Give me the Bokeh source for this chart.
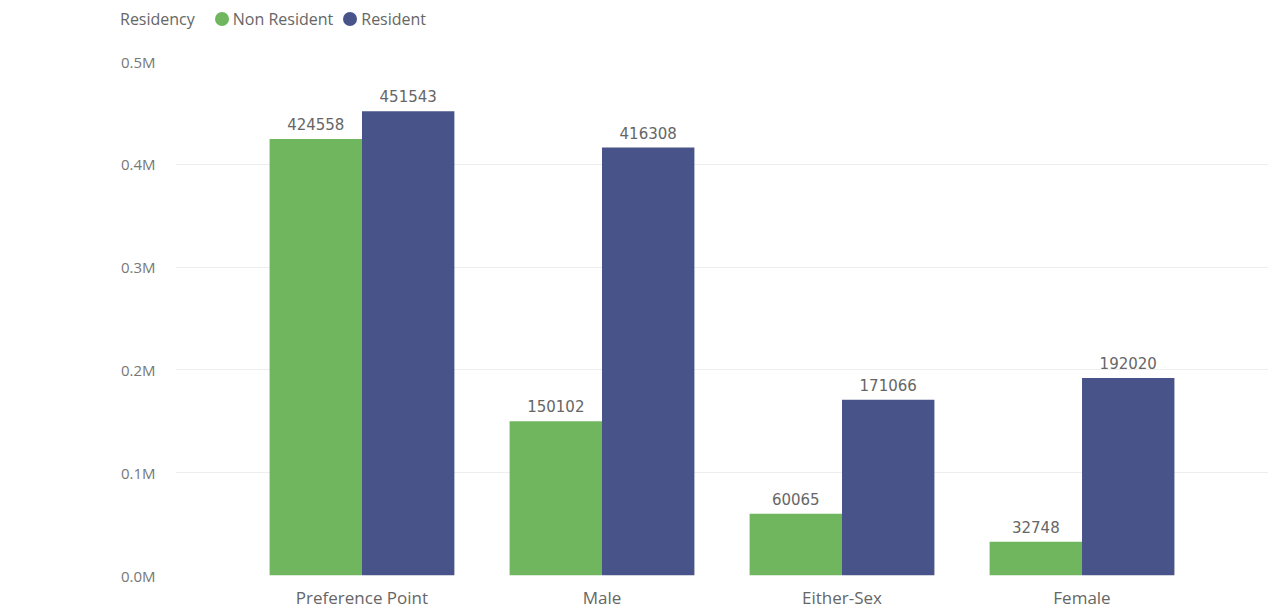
from bokeh.plotting import figure
from bokeh.layouts import column
from bokeh.models import (ColumnDataSource, FactorRange, Range1d, FixedTicker,
                          CustomJSTickFormatter, Div)
from bokeh.transform import dodge
from bokeh.core.properties import value
from bokeh.embed import file_html
from bokeh.resources import INLINE

categories = ["Preference Point", "Male", "Either-Sex", "Female"]
non_resident = [424558, 150102, 60065, 32748]
resident = [451543, 416308, 171066, 192020]
y_ticks = [0, 100000, 200000, 300000, 400000, 500000]
series_names = ["Non Resident", "Resident"]
legend_title = "Residency"
colors = ["#6fb65e", "#485389"]

src = ColumnDataSource(dict(
    cat=categories,
    nr=non_resident,
    r=resident,
    nr_lbl=[str(v) for v in non_resident],
    r_lbl=[str(v) for v in resident],
))

W, H = 1268, 611
LEG_H = 40

# ---- legend strip (HTML) ----
dot = ("display:inline-block;width:14px;height:14px;border-radius:50%;"
       "background:{c};margin-right:4px;")
items_html = "".join(
    f'<span style="{dot.format(c=c)}"></span>'
    f'<span style="margin-right:10px;">{name}</span>'
    for name, c in zip(series_names, colors)
)
legend_html = (
    f'<div style="display:flex;align-items:center;height:{LEG_H - 2}px;'
    f'padding-left:120px;font-family:\'Open Sans\';font-size:16px;color:#666666;'
    f'white-space:nowrap;">'
    f'<span style="margin-right:20px;">{legend_title}</span>{items_html}</div>'
)
leg = Div(text=legend_html, width=W, height=LEG_H, margin=(0, 0, 0, 0))

# ---- main chart ----
p = figure(width=W, height=H - LEG_H, output_backend="svg", toolbar_location=None,
           x_range=FactorRange(factors=categories, range_padding=0.277,
                               range_padding_units="absolute"),
           y_range=Range1d(0, 500000))
p.min_border_left = 175
p.min_border_top = 61 - LEG_H
p.min_border_right = 0
p.min_border_bottom = 34
p.outline_line_color = None
p.background_fill_color = "white"

bw = 0.385
off = 0.1925
p.vbar(x=dodge("cat", -off, range=p.x_range), top="nr", width=bw, source=src,
       fill_color=colors[0], line_color=None)
p.vbar(x=dodge("cat", off, range=p.x_range), top="r", width=bw, source=src,
       fill_color=colors[1], line_color=None)

lbl_font = value("DejaVu Sans")
p.text(x=dodge("cat", -off, range=p.x_range), y="nr", text="nr_lbl", source=src,
       text_align="center", text_baseline="bottom", y_offset=-9,
       text_font=lbl_font, text_font_size="15px", text_color="#666666")
p.text(x=dodge("cat", off, range=p.x_range), y="r", text="r_lbl", source=src,
       text_align="center", text_baseline="bottom", y_offset=-9,
       text_font=lbl_font, text_font_size="15px", text_color="#666666")

p.yaxis.ticker = FixedTicker(ticks=y_ticks)
p.yaxis.formatter = CustomJSTickFormatter(code="return (tick/1e6).toFixed(1) + 'M';")
p.yaxis.axis_line_color = None
p.yaxis.major_tick_line_color = None
p.yaxis.minor_tick_line_color = None
p.yaxis.major_tick_out = 0
p.yaxis.major_label_standoff = 20
p.yaxis.major_label_text_font = "Open Sans"
p.yaxis.major_label_text_font_size = "15px"
p.yaxis.major_label_text_color = "#777777"

p.xaxis.axis_line_color = None
p.xaxis.major_tick_line_color = None
p.xaxis.minor_tick_line_color = None
p.xaxis.major_tick_out = 0
p.xaxis.major_label_standoff = 10
p.xaxis.major_label_text_font = "Open Sans"
p.xaxis.major_label_text_font_size = "17px"
p.xaxis.major_label_text_color = "#666666"

p.xgrid.grid_line_color = None
p.ygrid.grid_line_color = "#eeeeee"
p.ygrid.grid_line_width = 1

layout = column(leg, p, spacing=0)
open("out.html", "w").write(file_html(layout, INLINE))
